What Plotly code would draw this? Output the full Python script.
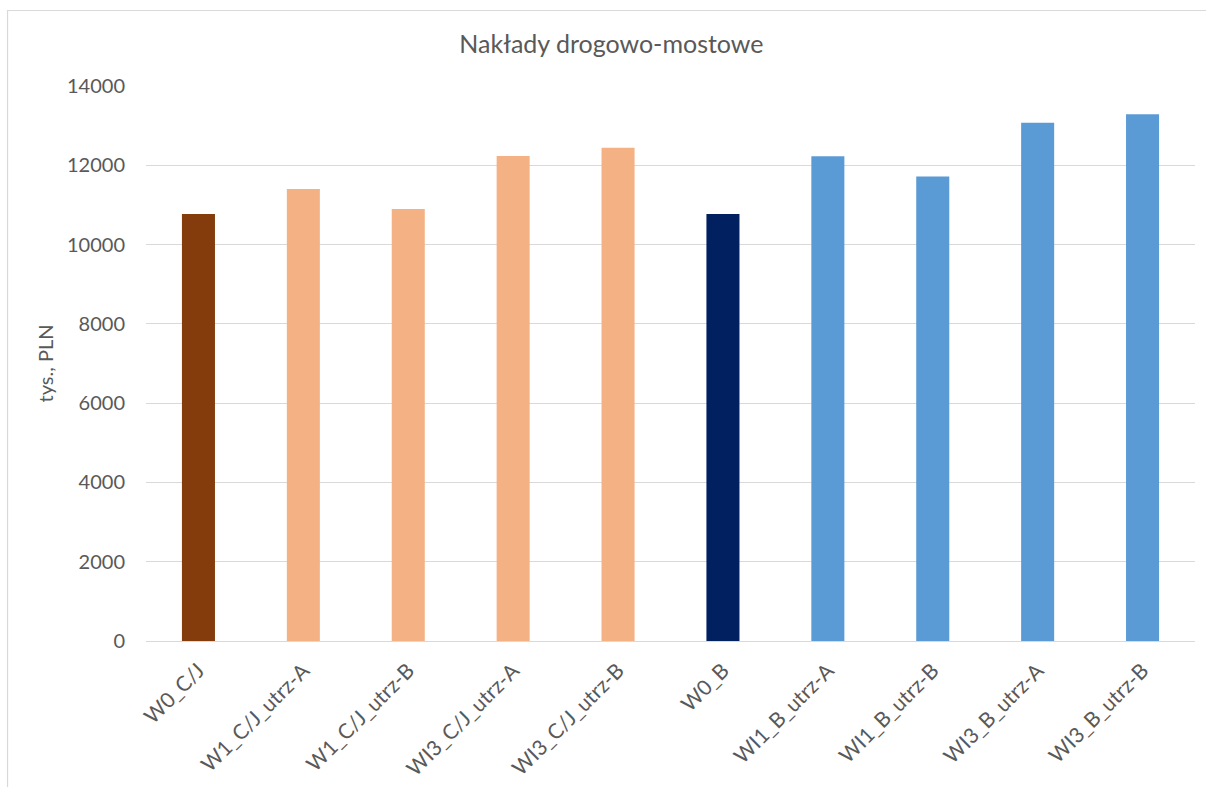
import plotly.graph_objects as go

categories = [
    "W0_C/J", "W1_C/J_utrz-A", "W1_C/J_utrz-B", "WI3_C/J_utrz-A", "WI3_C/J_utrz-B",
    "W0_B", "WI1_B_utrz-A", "WI1_B_utrz-B", "WI3_B_utrz-A", "WI3_B_utrz-B",
]
values = [10770, 11400, 10900, 12235, 12440, 10770, 12230, 11720, 13070, 13290]
bar_colors = [
    "#843C0C", "#F4B183", "#F4B183", "#F4B183", "#F4B183",
    "#002060", "#5B9BD5", "#5B9BD5", "#5B9BD5", "#5B9BD5",
]
y_ticks = [0, 2000, 4000, 6000, 8000, 10000, 12000, 14000]

FONT = "Lato, 'Open Sans', sans-serif"
TEXT = "#595959"
GRID = "#D9D9D9"

fig = go.Figure(
    go.Bar(
        x=categories,
        y=values,
        marker=dict(color=bar_colors, line=dict(width=0)),
        hoverinfo="x+y",
    )
)

fig.update_layout(
    width=1206,
    height=787,
    margin=dict(l=146, r=11, t=86, b=146),
    paper_bgcolor="white",
    plot_bgcolor="white",
    bargap=0.685,
    showlegend=False,
    font=dict(family=FONT, color=TEXT),
    title=dict(
        text="Nakłady drogowo-mostowe",
        x=0.507, xanchor="center",
        y=0.944, yanchor="middle",
        font=dict(size=25, color=TEXT, family=FONT),
    ),
    shapes=[
        dict(
            type="rect", xref="paper", yref="paper",
            x0=-0.132, x1=1.03, y0=-0.4, y1=1.136,
            line=dict(color=GRID, width=1.2),
            fillcolor="rgba(0,0,0,0)", layer="below",
        )
    ],
)

fig.update_xaxes(
    automargin=False,
    showgrid=False,
    showline=True, linecolor=GRID, linewidth=1.2,
    ticks="", tickangle=-45, ticklabelstandoff=8,
    tickfont=dict(size=21, color=TEXT, family=FONT),
)
fig.update_yaxes(
    automargin=False,
    range=[0, 14000],
    tickvals=y_ticks,
    tickformat="d",
    showgrid=True, gridcolor=GRID, gridwidth=1.2,
    zeroline=False, showline=False,
    ticks="", ticklabelstandoff=20,
    tickfont=dict(size=20, color=TEXT, family=FONT),
    title=dict(text="tys., PLN", standoff=8, font=dict(size=20, color=TEXT, family=FONT)),
)

fig.write_html("out.html")
